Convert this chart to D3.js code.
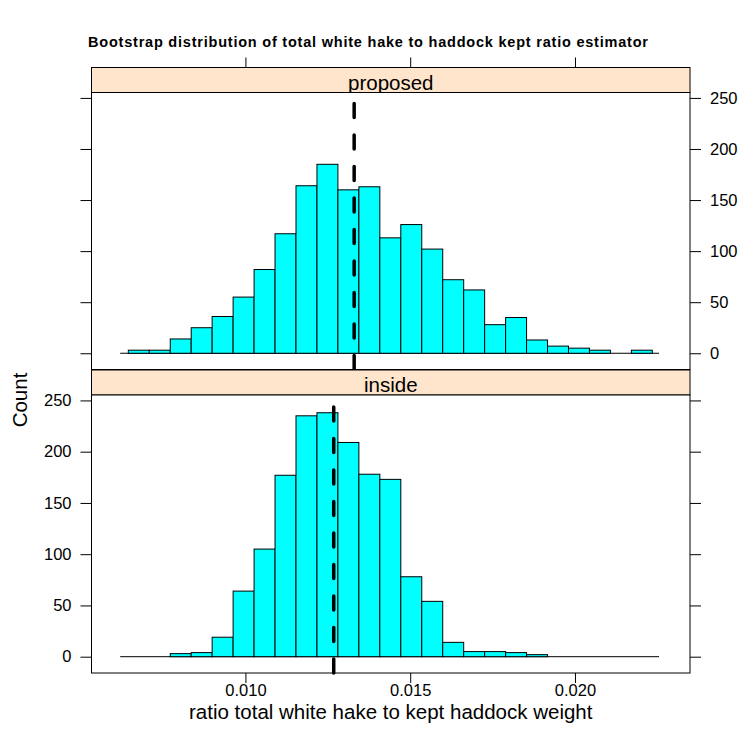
<!DOCTYPE html>
<html><head><meta charset="utf-8">
<script src="https://cdn.jsdelivr.net/npm/d3@7"></script>
<style>
body{margin:0;background:#fff}
svg{display:block;font-family:"Liberation Sans",Arial,Helvetica,sans-serif}
</style>
</head><body>
<svg id="chart" width="738" height="751"></svg>
<script>
// ---------- data ----------
const binEdges = [0.006447,0.007083,0.007719,0.008355,0.008991,0.009627,0.010263,0.010899,0.011535,
  0.012171,0.012807,0.013443,0.014079,0.014715,0.015351,0.015987,0.016623,0.017259,0.017895,
  0.018531,0.019167,0.019803,0.020439,0.021075,0.021711,0.022347];
const panelNames = ["proposed", "inside"];
const proposedCounts = [3,3,14,25,36,55,82,117,164,185,160,163,113,126,102,72,62,28,35,13,7,5,3,0,3];
const insideCounts   = [0,0,3,4,19,64,105,177,235,238,209,178,173,78,54,14,5,5,4,2,0,0,0,0,0];
const estimates = [0.0133, 0.01268];
const dataRange = [0.0062, 0.02255];
const xTicks = [0.010, 0.015, 0.020];
const xTickLabels = ["0.010", "0.015", "0.020"];
const yTicks = [0, 50, 100, 150, 200, 250];
const xLim = [0.00533, 0.02349];
const yLim = [-15.9, 255.3];
const titleText = "Bootstrap distribution of total white hake to haddock kept ratio estimator";
const xLabel = "ratio total white hake to kept haddock weight";
const yLabel = "Count";

// ---------- layout ----------
const svg = d3.select("#chart");
const left = 91.5, right = 690;
const stripH = 25;
const panels = [
  {name: panelNames[0], counts: proposedCounts, est: estimates[0], top: 92.5, bottom: 369.5},
  {name: panelNames[1], counts: insideCounts,   est: estimates[1], top: 395,  bottom: 673}
];
const x = d3.scaleLinear().domain(xLim).range([left, right]);
const tickLen = 11;

panels.forEach((p, i) => {
  const y = d3.scaleLinear().domain(yLim).range([p.bottom, p.top]);
  const g = svg.append("g");
  // strip
  g.append("rect").attr("x", left).attr("y", p.top - stripH).attr("width", right - left).attr("height", stripH)
    .attr("fill", "#ffe5cc").attr("stroke", "#000").attr("stroke-width", 1);
  g.append("text").attr("x", (left + right) / 2).attr("y", p.top - 3)
    .attr("text-anchor", "middle").attr("font-size", "20.5px").attr("fill", "#000").text(p.name);
  // panel background
  g.append("rect").attr("x", left).attr("y", p.top).attr("width", right - left).attr("height", p.bottom - p.top)
    .attr("fill", "#fff");
  // baseline over data range
  g.append("line").attr("x1", x(dataRange[0])).attr("x2", x(dataRange[1]))
    .attr("y1", y(0)).attr("y2", y(0)).attr("stroke", "#000").attr("stroke-width", 1);
  // bars
  g.selectAll("rect.bar").data(p.counts).enter().append("rect").attr("class", "bar")
    .attr("x", (d, k) => x(binEdges[k]))
    .attr("width", (d, k) => x(binEdges[k + 1]) - x(binEdges[k]))
    .attr("y", d => y(d))
    .attr("height", d => y(0) - y(d))
    .attr("fill", "#00ffff").attr("stroke", "#000").attr("stroke-width", 1);
  // dashed estimate line (drawn from bottom to top)
  g.append("line").attr("x1", x(p.est)).attr("x2", x(p.est))
    .attr("y1", p.bottom).attr("y2", p.top)
    .attr("stroke", "#000").attr("stroke-width", 3.5)
    .attr("stroke-linecap", "round").attr("stroke-dasharray", "14 17.5");
  // panel border
  g.append("rect").attr("x", left).attr("y", p.top).attr("width", right - left).attr("height", p.bottom - p.top)
    .attr("fill", "none").attr("stroke", "#000").attr("stroke-width", 1);

  // y axes: left labels on bottom panel, right labels on top panel
  const axL = d3.axisLeft(y).tickValues(yTicks).tickSize(tickLen).tickSizeOuter(0).tickPadding(9)
    .tickFormat(i === 1 ? d3.format("d") : () => "");
  const axR = d3.axisRight(y).tickValues(yTicks).tickSize(tickLen).tickSizeOuter(0).tickPadding(9)
    .tickFormat(i === 0 ? d3.format("d") : () => "");
  const gl = svg.append("g").attr("transform", `translate(${left},0)`).call(axL);
  const gr = svg.append("g").attr("transform", `translate(${right},0)`).call(axR);
  [gl, gr].forEach(a => {
    a.select(".domain").remove();
    a.selectAll("line").attr("stroke", "#000");
    a.selectAll("text").attr("font-size", "16.5px").attr("fill", "#000").attr("font-family", null);
  });
});

// x axes: ticks at top (no labels), ticks + labels at bottom
const topY = panels[0].top - stripH;
const axT = d3.axisTop(x).tickValues(xTicks).tickSize(10).tickSizeOuter(0).tickFormat(() => "");
const gt = svg.append("g").attr("transform", `translate(0,${topY})`).call(axT);
gt.select(".domain").remove();
gt.selectAll("line").attr("stroke", "#000");

const axB = d3.axisBottom(x).tickValues(xTicks).tickSize(10).tickSizeOuter(0).tickPadding(1)
  .tickFormat((d, k) => xTickLabels[k]);
const gb = svg.append("g").attr("transform", `translate(0,${panels[1].bottom})`).call(axB);
gb.select(".domain").remove();
gb.selectAll("line").attr("stroke", "#000");
gb.selectAll("text").attr("font-size", "16.5px").attr("fill", "#000").attr("font-family", null);

// titles
svg.append("text").attr("x", 368).attr("y", 47)
  .attr("text-anchor", "middle").attr("font-size", "14.5px").attr("font-weight", "bold")
  .attr("textLength", 560).attr("lengthAdjust", "spacing").text(titleText);
svg.append("text").attr("x", (left + right) / 2).attr("y", 719)
  .attr("text-anchor", "middle").attr("font-size", "20.5px").text(xLabel);
svg.append("text").attr("transform", "translate(27,400) rotate(-90)")
  .attr("text-anchor", "middle").attr("font-size", "20.5px").text(yLabel);
</script>
</body></html>
